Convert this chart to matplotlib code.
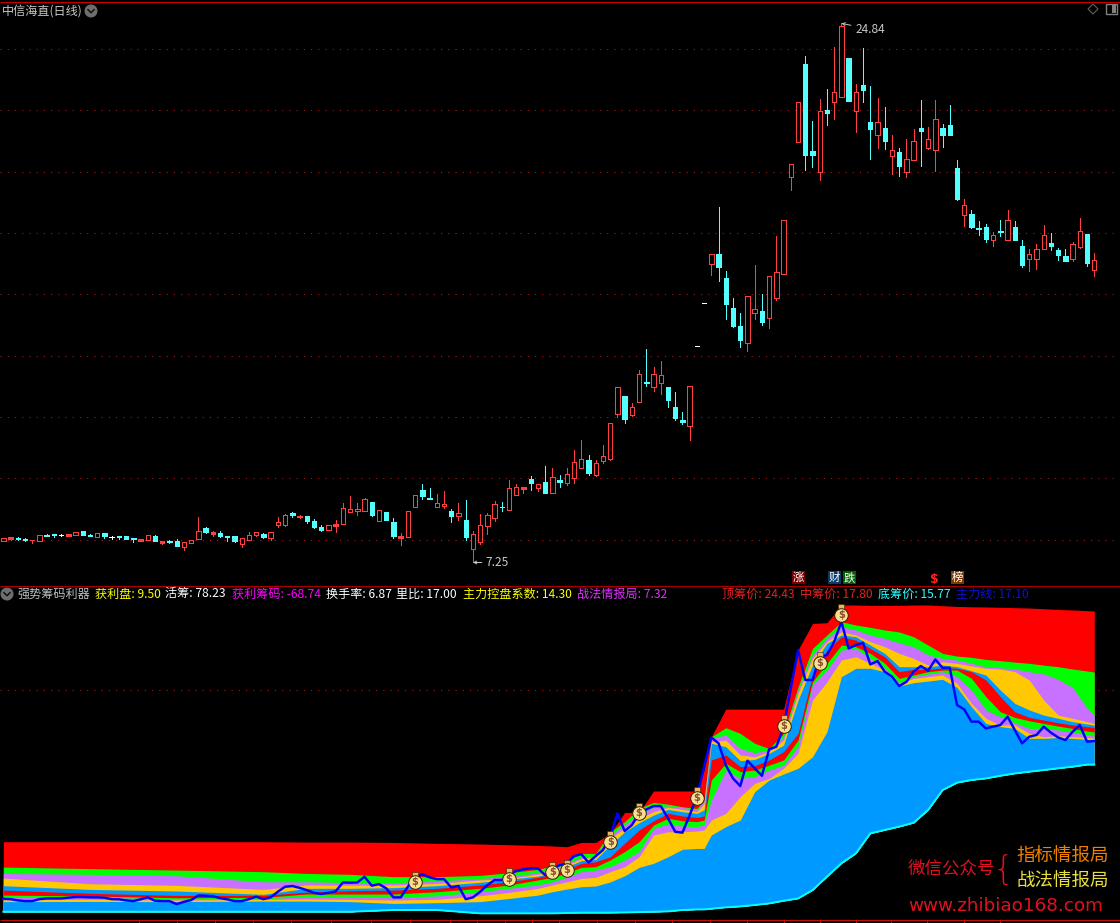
import matplotlib
matplotlib.use("Agg")
import matplotlib.pyplot as plt
from matplotlib.patches import Rectangle, Circle, Polygon

plt.rcParams['font.family'] = ['Noto Sans CJK SC', 'DejaVu Sans']

# ---------- daily candles (open, close, high, low), one per trading day ----------
opens = [7.96,8.02,8.05,8.02,7.97,7.96,8.15,8.18,8.14,8.13,8.16,8.27,8.15,8.09,8.20,8.07,8.11,8.10,8.04,7.96,
         7.99,8.10,7.90,7.96,7.94,7.77,7.90,8.03,8.38,8.19,8.21,8.10,8.10,7.86,7.99,8.16,8.18,8.06,8.48,8.48,
         8.86,8.73,8.77,8.60,8.41,8.32,8.45,8.52,8.91,8.92,8.94,9.22,8.61,8.90,8.57,8.06,8.09,9.05,9.61,9.34,
         9.06,9.09,8.92,8.78,8.64,7.69,7.92,8.45,8.71,9.07,8.97,9.46,9.66,9.97,9.69,9.88,9.53,9.94,9.85,10.02,
         10.34,10.59,10.12,10.56,10.63,12.11,12.68,12.07,12.50,13.14,12.99,13.12,12.98,12.32,11.90,11.71,14.30,15.70,17.00,17.31,
         16.53,15.55,14.97,14.41,15.40,15.45,15.24,15.89,16.67,19.84,20.98,23.51,20.67,20.00,22.01,22.28,22.45,23.71,21.99,22.83,
         21.62,21.21,21.43,20.52,20.64,20.00,20.39,21.43,20.78,20.72,21.43,21.52,20.12,18.60,18.62,18.16,18.20,17.78,18.06,17.78,
         18.20,17.58,17.16,17.16,17.49,17.67,17.44,17.25,17.16,17.54,17.97,16.80]
closes = [8.04,8.07,8.02,7.98,7.99,8.14,8.11,8.16,8.14,8.18,8.23,8.16,8.13,8.20,8.11,8.07,8.09,8.02,8.02,8.02,
          8.14,7.96,7.94,7.93,7.80,7.91,7.98,8.27,8.26,8.24,8.10,8.08,7.96,8.04,8.14,8.23,8.08,8.23,8.56,8.79,
          8.80,8.78,8.60,8.41,8.31,8.46,8.49,9.02,8.98,8.98,9.31,8.80,8.95,8.64,8.11,8.10,8.92,9.44,9.42,9.32,
          9.18,9.17,8.77,8.85,8.08,8.17,8.46,8.79,9.15,9.05,9.67,9.70,9.70,9.84,9.80,9.52,10.03,9.88,10.13,10.52,
          10.62,10.17,10.48,10.71,11.79,12.96,11.93,12.31,13.39,13.11,13.39,13.36,12.55,11.96,11.83,13.00,14.30,15.70,17.30,16.89,
          15.68,14.97,14.51,15.93,15.51,15.10,16.59,16.72,18.41,20.24,22.26,20.54,20.54,21.97,21.91,22.59,24.74,22.31,22.59,22.66,
          21.39,21.61,21.00,20.70,20.19,20.40,20.99,21.33,21.06,21.71,21.20,21.20,19.11,18.90,18.20,18.13,17.80,17.92,18.03,18.41,
          17.77,16.96,17.30,17.47,17.92,17.58,17.28,17.09,17.63,18.05,17.02,17.11]
highs = [8.04,8.07,8.08,8.05,7.99,8.14,8.18,8.18,8.18,8.18,8.23,8.27,8.18,8.20,8.20,8.11,8.11,8.11,8.05,8.02,
         8.14,8.15,7.95,7.99,8.01,7.91,7.98,8.73,8.40,8.28,8.28,8.10,8.11,8.04,8.23,8.23,8.21,8.23,8.72,8.83,
         8.91,8.80,8.77,8.67,8.47,8.46,8.64,9.19,9.42,9.18,9.34,9.22,8.95,8.90,8.70,8.20,8.92,9.44,9.80,9.68,
         9.48,9.58,9.00,9.19,9.29,8.27,8.83,8.85,9.25,9.22,9.94,9.80,9.70,10.07,9.80,10.40,10.33,10.10,10.33,10.92,
         11.25,10.76,10.58,11.08,11.79,12.96,12.68,12.44,13.53,14.22,13.63,13.82,12.98,12.81,12.16,13.00,14.30,15.70,17.30,18.85,
         16.76,15.88,15.39,15.93,16.96,16.01,16.59,17.90,18.41,20.24,22.26,23.77,21.65,22.37,22.70,24.07,24.84,23.71,22.86,24.04,
         22.80,22.40,22.11,21.20,20.77,21.07,21.39,22.34,21.46,22.34,21.56,22.18,20.38,19.11,18.75,18.39,18.29,18.03,18.42,18.75,
         18.39,17.77,17.48,17.64,18.26,18.00,17.51,17.48,17.71,18.49,17.97,17.35]
lows = [7.96,7.99,7.98,7.95,7.89,7.96,8.11,8.08,8.11,8.13,8.16,8.16,8.10,8.09,8.05,8.01,8.03,8.01,7.92,7.95,
        7.99,7.96,7.85,7.89,7.80,7.66,7.90,8.03,8.22,8.11,8.08,7.95,7.93,7.76,7.99,8.11,8.05,7.99,8.41,8.44,
        8.73,8.70,8.55,8.39,8.28,8.32,8.24,8.49,8.91,8.80,8.94,8.77,8.61,8.64,8.05,7.82,8.09,9.05,9.33,9.32,
        9.06,9.03,8.57,8.64,7.98,7.25,7.85,8.18,8.60,8.93,8.97,9.46,9.52,9.61,9.58,9.52,9.53,9.71,9.79,9.84,
        10.34,10.10,10.08,10.50,10.59,11.99,11.80,12.03,12.50,13.01,12.84,12.75,12.32,11.90,11.77,11.25,14.30,15.70,16.63,16.43,
        15.19,14.93,14.28,14.15,15.19,15.00,14.90,15.81,16.67,19.40,20.98,20.05,20.15,19.73,21.52,21.72,22.45,22.31,21.29,22.27,
        20.41,20.77,20.74,19.92,19.86,19.83,20.39,20.19,20.74,20.02,20.81,21.20,19.08,18.23,18.16,17.93,17.71,17.58,17.90,17.78,
        17.77,16.89,16.76,16.83,17.49,17.44,17.12,17.09,17.09,17.51,16.92,16.60]
high_label = "24.84"
low_label = "7.25"
grid_top = [8,10,12,14,16,18,20,22,24]
grid_bottom = [20]

# ---------- chip-distribution bands, read at these trading days ----------
band_days = [0,12,24,36,42,48,54,60,66,70,74,76,78,80,82,84,86,88,90,92,94,96,97,98,100,102,104,106,108,110,
             112,114,116,118,120,122,124,126,128,130,132,134,136,138,140,142,144,146,148,150,151]
red_top = [11.42,11.42,11.42,11.42,11.40,11.40,11.38,11.33,11.29,11.25,11.21,11.18,11.14,11.38,11.38,11.89,13.07,13.07,14.28,14.28,14.28,14.28,15.46,17.34,18.90,18.90,18.90,18.90,18.90,22.23,23.73,23.77,24.77,24.77,24.75,24.75,24.75,24.77,24.77,24.73,24.69,24.67,24.66,24.64,24.62,24.60,24.56,24.52,24.49,24.45,24.43]
green_top = [9.99,9.90,9.82,9.73,9.63,9.58,9.45,9.45,9.52,9.67,9.86,10.05,10.35,10.76,10.76,11.98,12.55,13.30,13.64,13.54,13.39,13.30,13.77,17.34,17.85,17.53,16.97,16.68,17.53,20.16,22.32,23.08,23.83,23.64,23.51,23.36,23.25,22.98,22.51,22.04,21.89,21.82,21.70,21.63,21.55,21.48,21.38,21.29,21.16,21.05,20.99]
purple_top = [9.63,9.58,9.50,9.16,9.16,9.11,9.11,9.20,9.35,9.45,9.67,9.86,10.20,10.54,10.61,11.80,12.36,13.02,13.36,13.43,13.36,13.21,13.77,17.25,17.44,16.68,16.44,16.59,17.34,19.97,21.95,22.89,23.55,23.36,23.08,22.89,22.64,22.42,21.95,21.76,21.67,21.48,21.29,21.23,21.16,21.01,20.88,20.58,20.12,18.94,18.56]
gold_top = [9.37,9.05,8.96,8.73,8.98,8.96,8.98,9.07,9.26,9.35,9.58,9.78,10.10,10.46,10.57,11.61,12.17,12.74,13.11,13.36,13.24,13.11,13.58,17.06,17.15,16.31,16.21,16.50,17.15,19.79,21.76,22.70,23.26,23.08,22.70,22.42,22.04,21.76,21.38,21.57,21.48,21.33,21.20,21.16,21.01,20.54,19.41,18.56,18.38,18.19,18.09]
blue_top = [8.94,8.73,8.64,8.45,8.79,8.79,8.83,8.94,9.13,9.30,9.48,9.67,10.01,10.35,10.42,11.23,11.98,12.49,12.92,13.24,13.11,13.02,13.21,16.97,16.78,15.99,16.06,16.40,16.87,19.41,21.38,22.61,23.08,22.98,22.51,22.04,21.29,21.29,21.29,21.38,21.29,21.06,20.82,19.97,19.22,18.85,18.56,18.38,18.19,18.06,18.00]
red2_top = [8.69,8.51,8.39,8.39,8.58,8.66,8.69,8.79,8.98,9.16,9.41,9.60,9.86,10.20,10.29,10.57,11.33,12.08,12.60,13.02,12.87,12.79,12.87,16.03,16.31,15.65,15.71,16.03,16.50,17.53,20.82,22.23,22.98,22.79,22.32,21.85,21.01,21.14,21.14,21.23,21.20,21.01,20.54,19.60,18.75,18.43,18.28,18.13,18.00,17.91,17.87]
green2_top = [8.41,8.36,8.26,8.28,8.47,8.47,8.47,8.60,8.79,8.98,9.26,9.41,9.67,9.97,10.01,10.39,10.86,11.42,12.36,12.74,12.60,12.55,12.64,14.90,15.84,15.37,15.46,15.74,16.03,17.15,20.44,21.48,22.51,22.42,22.04,21.48,20.63,20.82,21.01,21.10,21.10,20.63,19.60,18.75,18.43,18.24,18.09,17.94,17.81,17.66,17.61]
purple2_top = [8.28,8.28,8.20,8.20,8.32,8.32,8.28,8.36,8.60,8.79,8.98,9.16,9.41,9.73,9.82,10.01,10.39,10.86,12.17,12.42,12.30,12.27,12.36,13.77,15.46,14.99,15.09,15.46,15.74,16.78,20.26,21.10,22.23,22.32,21.76,21.20,20.39,20.73,20.88,21.01,20.73,19.97,18.85,18.47,18.13,17.81,17.81,17.72,17.61,17.44,17.38]
gold2_top = [8.15,8.17,8.13,8.17,8.19,8.17,8.13,8.17,8.37,8.56,8.79,8.98,9.16,9.35,9.41,9.73,10.01,10.57,11.80,11.98,11.98,12.02,12.08,12.64,13.02,13.96,14.71,14.99,15.56,16.40,19.41,20.44,21.67,21.85,21.48,21.10,20.35,20.63,20.73,20.82,20.35,19.22,18.38,18.00,18.00,17.53,17.34,17.40,17.34,17.30,17.25]
base_top = [8.04,8.05,8.04,8.07,8.07,8.04,7.94,7.98,8.04,8.22,8.41,8.60,8.75,8.88,8.92,9.15,9.50,9.97,10.20,10.57,10.99,11.04,11.04,11.80,12.27,12.64,14.24,14.90,15.24,15.56,16.21,17.62,20.73,21.20,21.20,21.01,20.20,20.39,20.48,20.58,20.12,19.03,18.09,17.91,17.81,17.25,17.25,17.29,17.25,17.19,17.15]
bottom_line = [7.47,7.47,7.47,7.47,7.47,7.47,7.57,7.57,7.38,7.38,7.38,7.38,7.40,7.42,7.42,7.42,7.43,7.45,7.47,7.49,7.57,7.60,7.60,7.64,7.72,7.77,7.85,7.94,8.09,8.22,8.69,9.45,10.20,10.76,11.89,12.08,12.27,12.49,13.21,14.33,14.75,14.90,14.99,15.14,15.27,15.37,15.46,15.56,15.65,15.77,15.77]

# main-force line, one value per trading day
main_line = [8.20,8.18,8.11,8.07,8.07,8.18,8.22,8.22,8.22,8.26,8.30,8.30,8.28,8.28,8.26,8.18,8.17,8.11,8.07,8.17,
             8.28,8.09,8.07,8.07,7.90,8.03,8.13,8.39,8.37,8.35,8.24,8.17,8.07,8.07,8.18,8.32,8.18,8.28,8.60,8.88,
             8.92,8.82,8.69,8.54,8.47,8.54,8.62,9.12,9.11,9.12,9.44,8.94,9.03,8.79,8.28,8.28,8.88,9.44,9.58,9.41,
             9.31,9.31,8.84,8.92,8.18,8.28,8.60,8.97,9.26,9.26,9.54,9.78,9.86,9.93,9.91,9.54,9.91,10.10,10.20,10.61,
             10.72,10.25,10.61,10.95,11.70,13.02,12.02,12.36,13.02,13.24,13.43,13.43,12.74,11.98,11.93,12.92,13.96,15.65,17.30,16.97,
             15.74,14.99,14.56,15.99,15.56,15.14,16.63,16.78,17.91,20.07,22.23,20.54,20.54,21.85,21.95,22.70,23.83,22.32,22.51,22.64,
             21.42,21.61,21.01,20.73,20.20,20.44,21.01,21.33,21.06,21.70,21.23,21.23,19.13,18.88,18.19,18.19,17.81,17.91,18.00,18.47,
             17.72,16.97,17.34,17.44,17.91,17.57,17.30,17.15,17.62,18.00,17.06,17.10]
bag_days = [57,70,76,78,84,88,96,108,113,116]
bag_prices = [9.15,9.32,9.70,9.82,11.42,13.04,13.89,17.95,21.52,24.21]
date_ticks = [18.8,24.0,29.3,34.6,39.8,45.4,50.9,56.3,61.8,65.6,69.4,73.2,76.9,82.2,87.5,92.6,97.8,102.9,108,113,118,122.9,127.9,132.9,137.9]

# header labels: text, left pixel, colour
indicator_labels = [
    ("强势筹码利器", 17, "#C0C0C0"), ("获利盘: 9.50", 95, "#FFFF00"), ("活筹: 78.23", 165, "#FFFFFF"),
    ("获利筹码: -68.74", 232, "#FF00FF"), ("换手率: 6.87", 326, "#FFFFFF"), ("里比: 17.00", 396, "#FFFFFF"),
    ("主力控盘系数: 14.30", 463, "#FFFF00"), ("战法情报局: 7.32", 577, "#E030FF"),
    ("顶筹价: 24.43", 722, "#E82020"), ("中筹价: 17.80", 800, "#E82020"),
    ("底筹价: 15.77", 878, "#30FFFF"), ("主力线: 17.10", 956, "#1010D0"),
]
signal_labels = [("涨", 798, "#7A0000"), ("财", 834, "#0A3A6A"), ("跌", 849, "#006000"), ("榜", 957, "#7A3A00")]

W, H = 1120, 923
BG = "#000000"
fig = plt.figure(figsize=(W/100, H/100), dpi=100, facecolor=BG)

def pane(top, bottom, ylim):
    ax = fig.add_axes([0, 1-bottom/H, 1, (bottom-top)/H], facecolor=BG)
    ax.set_xlim(-3.3/7.225, (W-3.3)/7.225)
    ax.set_ylim(*ylim)
    ax.set_yticks([])
    for s in ax.spines.values():
        s.set_visible(False)
    return ax

GRID = dict(color="#A81818", lw=0.8, ls=(0, (1, 5.5)), zorder=1)

# ---- price pane ----
ax1 = pane(0, 585, (8-(585-539.5)/30.65, 8+539.5/30.65))
ax1.set_xticks([])
for g in grid_top:
    ax1.axhline(g, **GRID)
days = list(range(len(opens)))
RED, CYAN = "#FF4040", "#54FFFF"
colors = [RED if c > o else (CYAN if c < o else "#FFFFFF") for o, c in zip(opens, closes)]
ax1.vlines(days, lows, highs, colors=colors, lw=0.72, zorder=2, antialiased=False)
bottoms = [min(o, c) for o, c in zip(opens, closes)]
heights = [abs(o-c) for o, c in zip(opens, closes)]
faces = [BG if col == RED and h > 0.06 else col for col, h in zip(colors, heights)]
bars = ax1.bar(days, heights, bottom=bottoms, width=4.4/7.225, color=faces, edgecolor=colors, lw=0.65, zorder=3)
for b in bars:
    b.set_antialiased(False)
for text, day, price, tx, ty in [(high_label, 116, 24.84, 117.9, 24.65), (low_label, 65, 7.25, 66.8, 7.25)]:
    ax1.annotate(text, xy=(day, price), xytext=(tx, ty), color="#C8C8C8", fontsize=8.6, va="center", ha="left",
                 arrowprops=dict(arrowstyle="->", color="#C8C8C8", lw=0.7, shrinkA=1, shrinkB=0, mutation_scale=5), zorder=6)

# ---- indicator pane ----
ax2 = pane(586, 919.5, (17.10-(919.5-741)*0.0564, 17.10+(741-586)*0.0564))
for g in grid_bottom:
    ax2.axhline(g, **GRID)
bands = [(red_top, "#FF0000"), (green_top, "#00FF00"), (purple_top, "#C870FF"), (gold_top, "#FFC800"),
         (blue_top, "#0099FF"), (red2_top, "#FF0000"), (green2_top, "#00FF00"), (purple2_top, "#C870FF"),
         (gold2_top, "#FFC800"), (base_top, "#0099FF")]
for i, (series, col) in enumerate(bands):
    ax2.fill_between(band_days, bottom_line, series, color=col, lw=0, antialiased=False, zorder=2+i*0.1)
ax2.plot(band_days, bottom_line, color="#00FFFF", lw=1.4, zorder=4)
ax2.plot(days, main_line, color="#0000FF", lw=1.75, zorder=5)
ax2.scatter(bag_days, [p+0.42 for p in bag_prices], marker="s", s=14, color="#E8B860", edgecolor="#3A2000", lw=0.4, zorder=6)
ax2.scatter(bag_days, bag_prices, s=95, color="#F8E090", edgecolor="#302000", lw=0.7, zorder=7)
for d, p in zip(bag_days, bag_prices):
    ax2.text(d, p, "$", color="#8A4A30", fontsize=7, fontweight="bold", ha="center", va="center", zorder=8,
             family="DejaVu Sans")
ax2.set_xticks(date_ticks)
ax2.set_xticklabels([])
ax2.tick_params(axis="x", color="#C01010", length=2.5, width=0.7, direction="out")

# ---- overlay in figure pixels: frame, header text, icons, watermark ----
ov = fig.add_axes([0, 0, 1, 1], facecolor="none")
ov.set_xlim(0, W); ov.set_ylim(H, 0); ov.axis("off")
for y, col in [(1.5, "#C00000"), (585.5, "#A80000"), (919.5, "#C01010")]:
    ov.plot([0, W], [y, y], color=col, lw=0.8, solid_capstyle="butt")

def chevron(cx, cy):
    ov.add_patch(Circle((cx, cy), 5.8, color="#6E6E6E"))
    ov.plot([cx-3, cx, cx+3], [cy-1.3, cy+1.7, cy-1.3], color="#101010", lw=1.1)

FS = 8.7
ov.text(2, 11, "中信海直(日线)", color="#C8C8C8", fontsize=FS, va="center")
chevron(91, 11)
chevron(7, 594)
for text, x, col in indicator_labels:
    ov.text(x, 594, text, color=col, fontsize=FS, va="center")
for text, x, col in signal_labels:
    ov.add_patch(Rectangle((x-6.5, 571), 13, 13, color=col, lw=0))
    ov.text(x, 577.5, text, color="#FFFFFF", fontsize=8.2, ha="center", va="center")
ov.text(934, 579, "$", color="#FF2020", fontsize=9, fontweight="bold", ha="center", va="center", family="DejaVu Sans")
ov.add_patch(Polygon([(1093, 4), (1098, 9), (1093, 14), (1088, 9)], fill=False, ec="#606060", lw=0.8))
ov.add_patch(Rectangle((1106, 4), 11, 10, fill=False, ec="#808080", lw=1))
ov.add_patch(Rectangle((1112, 5), 4, 8, color="#808080", lw=0))

ov.text(908, 868, "微信公众号", color="#E01020", fontsize=12.6, va="center")
ov.text(1003, 870, "{", color="#E01020", fontsize=24, va="center", ha="center", family="DejaVu Sans", fontweight="light")
ov.text(1016, 857, "指标情报局", color="#F08000", fontsize=13.3, va="center")
ov.text(1016, 882, "战法情报局", color="#E8E040", fontsize=13.3, va="center")
ov.text(908, 906, "www.zhibiao168.com", color="#E01020", fontsize=13.2, va="center", family="DejaVu Sans")

fig.savefig("out.png", dpi=100, facecolor=BG)
